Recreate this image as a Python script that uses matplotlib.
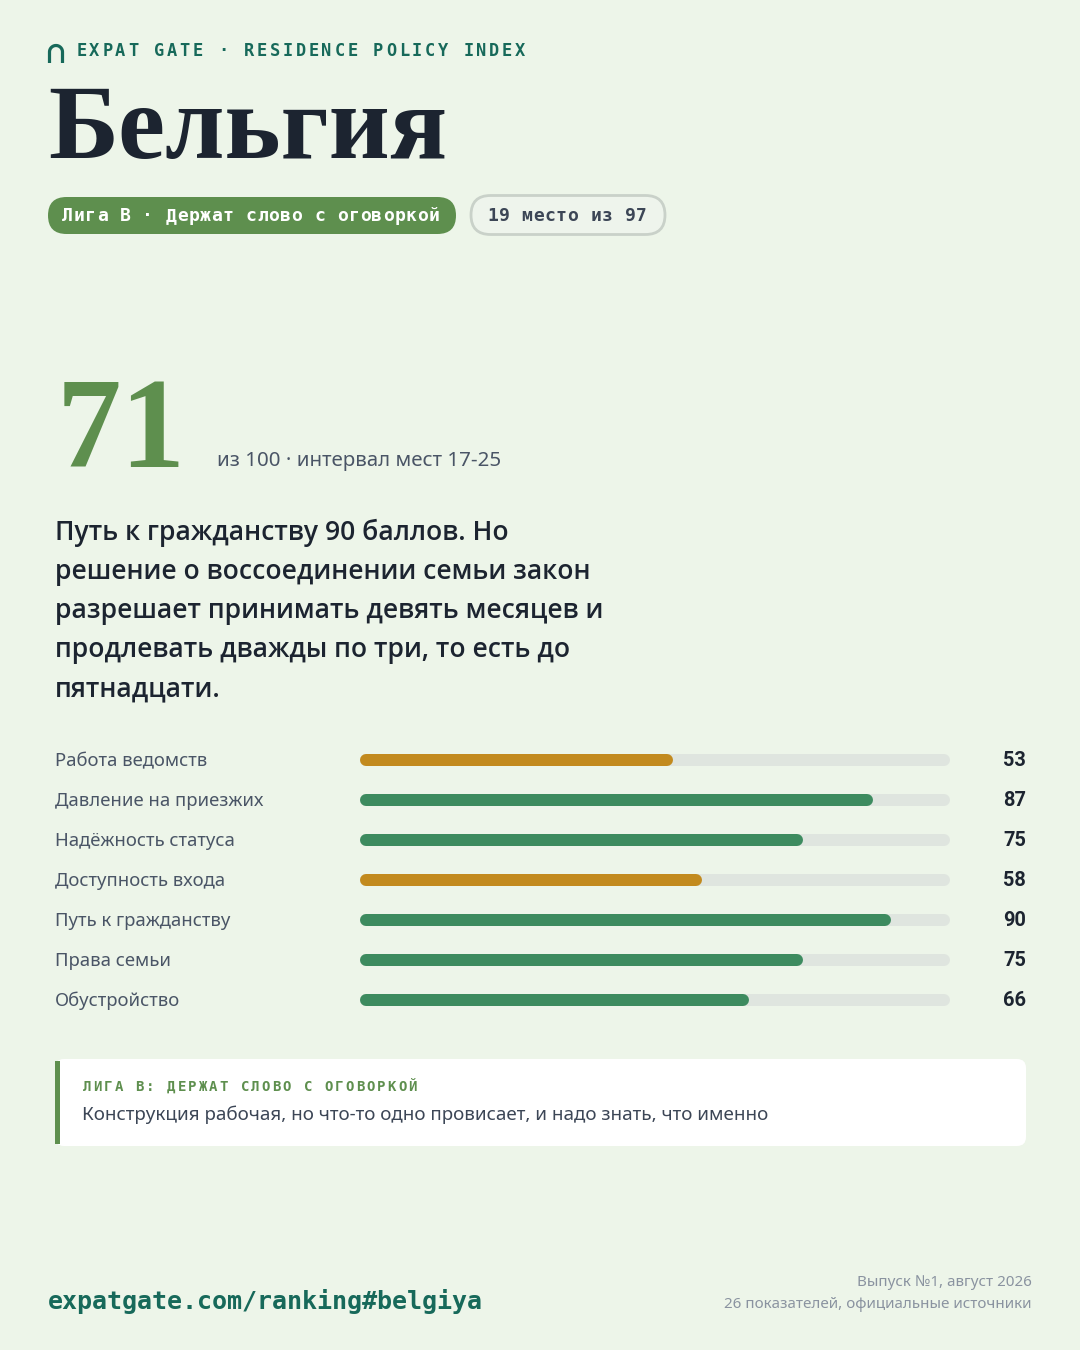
import matplotlib
matplotlib.use("Agg")
import matplotlib.pyplot as plt
from matplotlib.patches import FancyBboxPatch, Rectangle
import numpy as np

# данные
country = "Бельгия"
score = 71
rank, total = 19, 97
league = "Лига B · Держат слово с оговоркой"
summary_lines = ["Путь к гражданству 90 баллов. Но",
                 "решение о воссоединении семьи закон",
                 "разрешает принимать девять месяцев и",
                 "продлевать дважды по три, то есть до",
                 "пятнадцати."]
labels = ["Работа ведомств", "Давление на приезжих", "Надёжность статуса",
          "Доступность входа", "Путь к гражданству", "Права семьи", "Обустройство"]
values = [53, 87, 75, 58, 90, 75, 66]
note_title = "ЛИГА B: ДЕРЖАТ СЛОВО С ОГОВОРКОЙ"
note_text = "Конструкция рабочая, но что-то одно провисает, и надо знать, что именно"

BG = "#EDF5E9"
DARK = "#1C2430"
GREEN = "#5E8F4E"
TEAL = "#17695A"
BAR_GREEN = "#3D8B5F"
GOLD = "#C28A1E"
TRACK = "#DFE5DF"
GREY = "#4A5566"

SANS = ["Noto Sans", "DejaVu Sans"]
SANS_B = ["Open Sans", "DejaVu Sans"]
MONO = ["DejaVu Sans Mono"]
SERIF = ["Liberation Serif", "DejaVu Serif"]

W, H = 1080, 1350
fig = plt.figure(figsize=(W / 100, H / 100), dpi=100, facecolor=BG)
bg = fig.add_axes([0, 0, 1, 1])
bg.set_xlim(0, W)
bg.set_ylim(H, 0)
bg.axis("off")


def pt(px):
    return px * 0.72


def spaced(ax, x, y, s, step, **kw):
    # моноширинный текст с разрядкой
    for i, ch in enumerate(s):
        ax.text(x + i * step + step / 2, y, ch, ha="center", va="center", **kw)


# логотип-арка
t = np.linspace(0, np.pi, 30)
bg.plot(np.r_[62.5, 56 + 6.5 * np.cos(t), 49.5],
        np.r_[63, 52 - 6.5 * np.sin(t), 63],
        color=TEAL, lw=pt(3.2), solid_capstyle="butt")

spaced(bg, 75, 51, "EXPAT GATE · RESIDENCE POLICY INDEX", 12.9,
       fontsize=pt(17), fontweight="bold", family=MONO, color=TEAL)

bg.text(48, 158, country, fontsize=pt(106), fontweight="bold", family=SERIF,
        color=DARK, ha="left", va="baseline")

# плашки
bg.add_patch(FancyBboxPatch((48, 197), 408, 37,
                            boxstyle="round,pad=0,rounding_size=18.5",
                            fc=GREEN, ec="none"))
spaced(bg, 62, 216, league, 11.45, fontsize=pt(18), fontweight="bold",
       family=MONO, color="white")
bg.add_patch(FancyBboxPatch((471, 195.5), 194, 39,
                            boxstyle="round,pad=0,rounding_size=19.5",
                            fc="#EEF4EC", ec="#C9D1C9", lw=2))
spaced(bg, 487, 216, f"{rank} место из {total}", 11.45, fontsize=pt(18),
       fontweight="bold", family=MONO, color="#3C4656")

# общий балл
bg.text(57, 467, str(score), fontsize=pt(129), fontweight="bold", family=SERIF,
        color=GREEN, ha="left", va="baseline")
bg.text(217, 466, "из 100 · интервал мест 17-25", fontsize=pt(20.5), family=SANS,
        color=GREY, ha="left", va="baseline")

for i, line in enumerate(summary_lines):
    bg.text(55, 533 + 39 * i, line, fontsize=pt(26.5), fontweight="semibold",
            family=SANS_B, color=DARK, ha="left", va="center")

# шкалы показателей
bars = fig.add_axes([360 / W, (H - 1020) / H, 590 / W, 280 / H])
bars.set_xlim(0, 100)
bars.set_ylim(len(values) - 0.5, -0.5)
bars.axis("off")
r = 6 / 590 * 100
for i, (lab, v) in enumerate(zip(labels, values)):
    bars.plot([r, 100 - r], [i, i], color=TRACK, lw=pt(12), solid_capstyle="round")
    c = GOLD if v < 60 else BAR_GREEN
    bars.plot([r, v - r], [i, i], color=c, lw=pt(12), solid_capstyle="round")
    bars.text(-51.7, i + 0.03, lab, fontsize=pt(18.5), family=SANS, color=GREY,
              ha="left", va="center", clip_on=False)
    bars.text(112.9, i, str(v), fontsize=pt(20), fontweight="bold", family=["Roboto", "DejaVu Sans"],
              color=DARK, ha="right", va="center", clip_on=False)

# врезка
bg.add_patch(FancyBboxPatch((55, 1059), 971, 87, boxstyle="round,pad=0,rounding_size=9",
                            fc="white", ec="none"))
bg.add_patch(Rectangle((55, 1061), 4.5, 83, fc=GREEN, ec="none"))
spaced(bg, 82, 1087, note_title, 10.5, fontsize=pt(14), fontweight="bold",
       family=MONO, color=GREEN)
bg.text(82, 1115, note_text, fontsize=pt(18.8), family=SANS, color="#3C4656",
        ha="left", va="center")

# подвал
bg.text(48, 1301, "expatgate.com/ranking#belgiya", fontsize=pt(25), fontweight="bold",
        family=MONO, color=TEAL, ha="left", va="center")
bg.text(1032, 1282, "Выпуск №1, август 2026", fontsize=pt(15.2), family=SANS,
        color="#8A93A0", ha="right", va="center")
bg.text(1032, 1305, "26 показателей, официальные источники", fontsize=pt(15.2),
        family=SANS, color="#8A93A0", ha="right", va="center")

fig.savefig("out.png", dpi=100, facecolor=BG)
